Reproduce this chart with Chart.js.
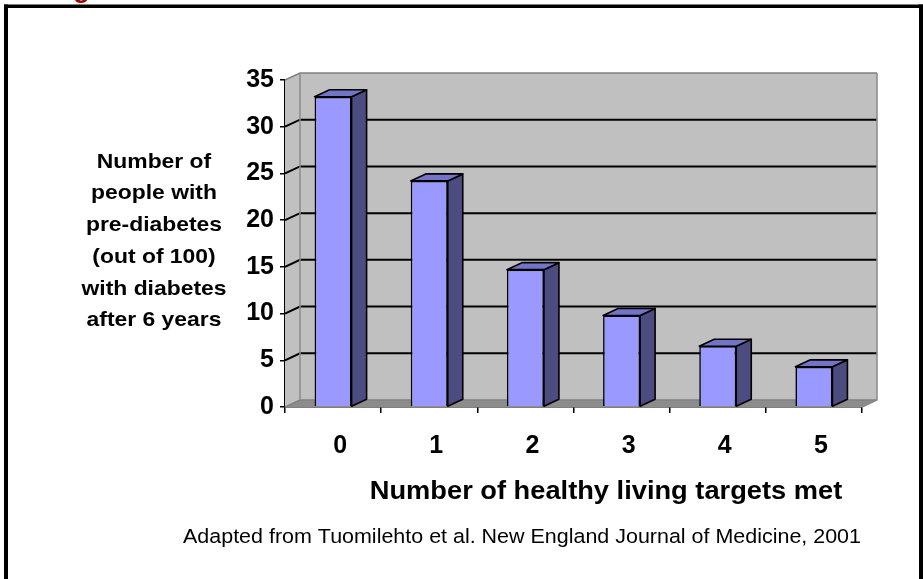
<!DOCTYPE html>
<html>
<head>
<meta charset="utf-8">
<script src="https://cdn.jsdelivr.net/npm/chart.js@4.4.1/dist/chart.umd.min.js"></script>
<style>
  html, body { margin: 0; padding: 0; background: #fff; }
  #wrap { width: 923px; height: 579px; position: relative; overflow: hidden; }
</style>
</head>
<body>
<div id="wrap"><canvas id="chart" width="923" height="579"></canvas></div>
<script>
const categories = ["0", "1", "2", "3", "4", "5"];
const diabetesCases = [33.2, 24.2, 14.7, 9.8, 6.5, 4.3];
const yTicks = [0, 5, 10, 15, 20, 25, 30, 35];
const yTitleLines = ["Number of", "people with", "pre-diabetes", "(out of 100)", "with diabetes", "after 6 years"];
const xTitle = "Number of healthy living targets met";
const sourceNote = "Adapted from Tuomilehto et al. New England Journal of Medicine, 2001";

// depth of the fake 3D box (wall and bars)
const DX = 15;
const DY = -7;
const FONT = '"Liberation Sans", Arial, sans-serif';
// the slide text looks a bit wider than normal
const STRETCH = 1.09;

function poly(ctx, pts, fill, stroke, lw) {
    ctx.beginPath();
    ctx.moveTo(pts[0][0], pts[0][1]);
    for (let i = 1; i < pts.length; i++) ctx.lineTo(pts[i][0], pts[i][1]);
    ctx.closePath();
    if (fill) { ctx.fillStyle = fill; ctx.fill(); }
    if (stroke) { ctx.strokeStyle = stroke; ctx.lineWidth = lw || 1; ctx.stroke(); }
}

function wideText(ctx, text, x, y) {
    ctx.save();
    ctx.translate(x, y);
    ctx.scale(STRETCH, 1);
    ctx.fillText(text, 0, 0);
    ctx.restore();
}

const wallPlugin = {
    id: "wall3d",
    beforeDatasetsDraw(chart) {
        const ctx = chart.ctx;
        const { left, right, top, bottom } = chart.chartArea;
        const y = chart.scales.y;
        ctx.save();
        // side wall, back wall, floor
        poly(ctx, [[left, top], [left + DX, top + DY], [left + DX, bottom + DY], [left, bottom]], "#C0C0C0");
        poly(ctx, [[left + DX, top + DY], [right + DX, top + DY], [right + DX, bottom + DY], [left + DX, bottom + DY]], "#C0C0C0");
        poly(ctx, [[left, bottom], [left + DX, bottom + DY], [right + DX, bottom + DY], [right, bottom]], "#8C8C8C");

        // grid lines on the walls
        yTicks.forEach(v => {
            const py = y.getPixelForValue(v);
            const edge = (v === yTicks[0] || v === yTicks[yTicks.length - 1]);
            ctx.beginPath();
            ctx.moveTo(left, py);
            ctx.lineTo(left + DX, py + DY);
            ctx.lineTo(right + DX, py + DY);
            ctx.strokeStyle = edge ? "#808080" : "#000";
            ctx.lineWidth = edge ? 1.5 : 2;
            ctx.stroke();
        });
        ctx.beginPath();
        ctx.moveTo(left + DX, top + DY);
        ctx.lineTo(left + DX, bottom + DY);
        ctx.moveTo(right + DX, top + DY);
        ctx.lineTo(right + DX, bottom + DY);
        ctx.lineTo(right, bottom);
        ctx.strokeStyle = "#8a8a8a";
        ctx.lineWidth = 1.5;
        ctx.stroke();
        ctx.restore();
    },
    afterDatasetsDraw(chart) {
        const ctx = chart.ctx;
        ctx.save();
        ctx.lineJoin = "round";
        chart.getDatasetMeta(0).data.forEach(bar => {
            const { x, y, base, width } = bar.getProps(["x", "y", "base", "width"], true);
            const l = x - width / 2, r = x + width / 2;
            poly(ctx, [[r, y], [r + DX, y + DY], [r + DX, base + DY], [r, base]], "#4C4C80", "#000", 1.6);
            poly(ctx, [[l, y], [l + DX, y + DY], [r + DX, y + DY], [r, y]], "#7373C8", "#000", 1.6);
        });
        ctx.restore();
    },
    afterDraw(chart) {
        const ctx = chart.ctx;
        ctx.save();
        ctx.fillStyle = "#000";
        ctx.textAlign = "center";
        ctx.textBaseline = "middle";
        ctx.font = "bold 21px " + FONT;
        yTitleLines.forEach((line, i) => wideText(ctx, line, 154, 162 + i * 31.7));
        ctx.font = "bold 25px " + FONT;
        wideText(ctx, xTitle, 606, 492);
        ctx.font = "19.7px " + FONT;
        wideText(ctx, sourceNote, 522, 538);

        // slide title cut off at the top edge
        ctx.fillStyle = "#990000";
        ctx.textAlign = "left";
        ctx.textBaseline = "alphabetic";
        ctx.font = "bold 28px " + FONT;
        ctx.fillText("g", 73, -3);

        // slide frame
        ctx.fillStyle = "#000";
        ctx.fillRect(4, 4.5, 919, 3.5);
        ctx.fillRect(4, 4.5, 4, 575);
        ctx.fillRect(919, 4.5, 4, 575);
        ctx.restore();
    }
};

new Chart(document.getElementById("chart"), {
    type: "bar",
    data: {
        labels: categories,
        datasets: [{
            data: diabetesCases,
            backgroundColor: "#9999FF",
            borderColor: "#000",
            borderWidth: 1.6,
            categoryPercentage: 1,
            barPercentage: 0.385
        }]
    },
    options: {
        responsive: false,
        animation: false,
        devicePixelRatio: 1,
        layout: { padding: { left: 0, right: 61, top: 80, bottom: 0 } },
        plugins: {
            legend: { display: false },
            tooltip: { enabled: false }
        },
        scales: {
            x: {
                afterFit: s => { s.height = 172; },
                grid: { offset: true, drawOnChartArea: false, drawTicks: true, tickLength: 6, color: "#000", lineWidth: 1.5 },
                border: { display: true, color: "#000", width: 1.5 },
                ticks: { color: "#000", font: { family: FONT, size: 25, weight: "bold" }, padding: 18, labelOffset: 7 }
            },
            y: {
                min: 0,
                max: 35,
                afterFit: s => { s.width = 285; },
                afterBuildTicks: s => { s.ticks = yTicks.map(v => ({ value: v })); },
                grid: { drawOnChartArea: false, drawTicks: true, tickLength: 5, color: "#000", lineWidth: 1.5 },
                border: { display: true, color: "#000", width: 1.5 },
                ticks: { color: "#000", font: { family: FONT, size: 25, weight: "bold" }, padding: 6 }
            }
        }
    },
    plugins: [wallPlugin]
});
</script>
</body>
</html>
